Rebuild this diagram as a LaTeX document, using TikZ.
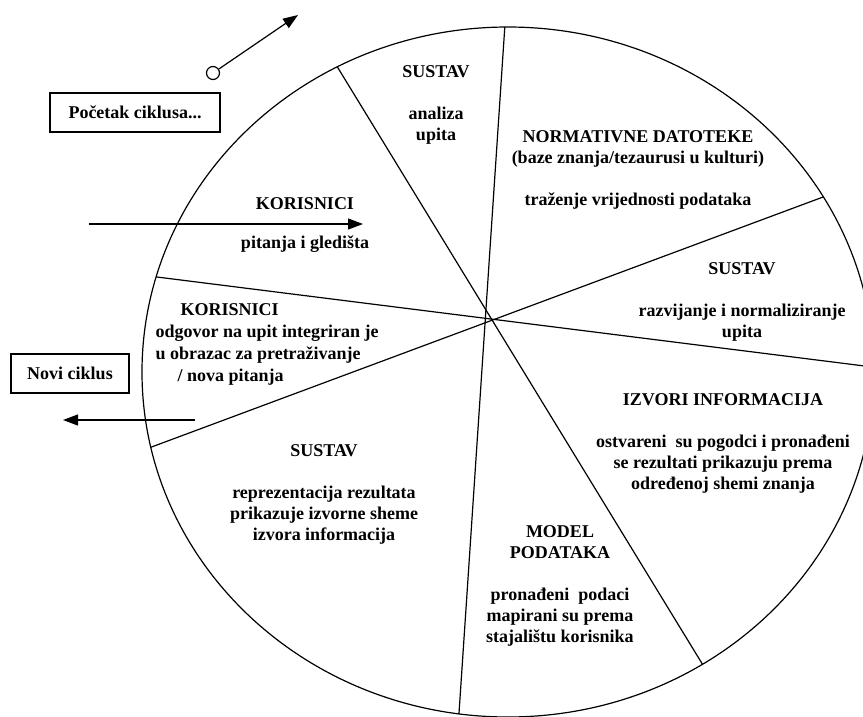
\documentclass[tikz,border=0pt]{standalone}
\usepackage{fontspec}
\setmainfont{Liberation Serif}
\usetikzlibrary{arrows.meta,calc}
\begin{document}
\begin{tikzpicture}[x=1pt,y=-1pt,
  line width=1.2pt,
  txt/.style={font=\fontsize{18}{21}\selectfont\bfseries, inner sep=0pt},
  lbl/.style={txt, align=center, anchor=north},
  boxlbl/.style={txt, draw, line width=1.2pt, minimum height=39pt},
  arr/.style={-{Triangle[length=15pt,width=11pt]}, line width=1.2pt}
]
\useasboundingbox (0,0) rectangle (863,716);

% the cycle: an ellipse cut into eight sectors by four chords
\begin{scope}
  \clip (0,0) rectangle (863,716);
  \coordinate (c) at (508,372);
  \draw (c) ellipse [x radius=366pt, y radius=345pt];
  \coordinate (a1) at ($(c)+(117.8:366pt and 345pt)$);
  \coordinate (b1) at ($(c)+(-57.9:366pt and 345pt)$);
  \coordinate (a2) at ($(c)+(90.5:366pt and 345pt)$);
  \coordinate (b2) at ($(c)+(-97.7:366pt and 345pt)$);
  \coordinate (a3) at ($(c)+(30.5:366pt and 345pt)$);
  \coordinate (b3) at ($(c)+(192.6:366pt and 345pt)$);
  \coordinate (a4) at ($(c)+(164:366pt and 345pt)$);
  \coordinate (b4) at ($(c)+(0.8:366pt and 345pt)$);
  \draw (a1) -- (b1);
  \draw (a2) -- (b2);
  \draw (a3) -- (b3);
  \draw (a4) -- (b4);
\end{scope}

% start of the cycle
\node[boxlbl, minimum width=170pt] (pocetak) at (135,112.5) {Početak ciklusa...};
\node[draw, circle, minimum size=13pt, inner sep=0pt, line width=1.2pt] (start) at (213,73) {};
\coordinate (starttip) at (298,15);
\draw[arr] (start) -- (starttip);

% new cycle
\node[boxlbl, minimum width=118pt] (novi) at (70,373.5) {Novi ciklus};
\coordinate (noviA) at (195,420);
\coordinate (noviB) at (63,420);
\draw[arr] (noviA) -- (noviB);

% users enter the cycle
\coordinate (korA) at (89,224);
\coordinate (korB) at (363,224);
\draw[arr] (korA) -- (korB);
\node[lbl] (kor1) at (305,197) {KORISNICI};
\node[txt, anchor=base] (kor1b) at (305,248) {pitanja i gledišta};

% sector texts
\node[lbl] (sus1) at (436,65) {SUSTAV\\~\\analiza\\upita};
\node[lbl] (norm) at (638,130) {NORMATIVNE DATOTEKE\\(baze znanja/tezaurusi u kulturi)\\~\\traženje vrijednosti podataka};
\node[lbl] (sus2) at (742,262) {SUSTAV\\~\\razvijanje i normaliziranje\\upita};
\node[lbl] (izvori) at (723,393) {IZVORI INFORMACIJA\\~\\ostvareni~ su pogodci i pronađeni\\se rezultati prikazuju prema\\određenoj shemi znanja};
\node[lbl] (model) at (560,525) {MODEL\\PODATAKA\\~\\pronađeni~ podaci\\mapirani su prema\\stajalištu korisnika};
\node[lbl] (sus3) at (324,444) {SUSTAV\\~\\reprezentacija rezultata\\prikazuje izvorne sheme\\izvora informacija};
\node[txt, font=\fontsize{18}{22}\selectfont\bfseries, align=left, anchor=north west] (kor2) at (155,303)
  {\hspace*{25pt}KORISNICI\\odgovor na upit integriran je\\u obrazac za pretraživanje\\\hspace*{22pt}/ nova pitanja};
\end{tikzpicture}
\end{document}
